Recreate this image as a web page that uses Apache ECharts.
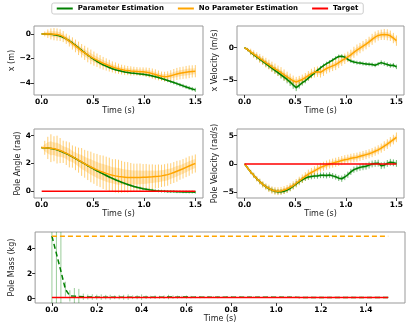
<!DOCTYPE html>
<html>
<head>
<meta charset="utf-8">
<script src="https://cdn.jsdelivr.net/npm/echarts@6/dist/echarts.min.js"></script>
<style>
  html, body { margin: 0; padding: 0; background: #fff; }
  #chart { width: 415px; height: 332px; }
</style>
</head>
<body>
<div id="chart"></div>
<script>
// time axis of the four state panels (s)
const timeSteps = [0.00,0.03,0.06,0.09,0.12,0.15,0.18,0.21,0.24,0.27,0.30,0.33,0.36,0.39,0.42,0.45,0.48,0.51,0.54,0.57,
  0.60,0.63,0.66,0.69,0.72,0.75,0.78,0.81,0.84,0.87,0.90,0.93,0.96,0.99,1.02,1.05,1.08,1.11,1.14,1.17,
  1.20,1.23,1.26,1.29,1.32,1.35,1.38,1.41,1.44,1.47,1.50]

// x (m)
const xEst    = [0.00,0.00,-0.01,-0.03,-0.06,-0.10,-0.17,-0.27,-0.40,-0.56,-0.74,-0.94,-1.14,-1.34,-1.54,-1.73,-1.91,-2.08,-2.24,-2.39,
  -2.52,-2.64,-2.75,-2.85,-2.93,-3.00,-3.06,-3.11,-3.15,-3.19,-3.22,-3.25,-3.28,-3.31,-3.35,-3.39,-3.44,-3.50,-3.57,-3.65,
  -3.73,-3.81,-3.90,-3.98,-4.07,-4.16,-4.25,-4.34,-4.43,-4.51,-4.58]
const xEstErr = [0.02,0.03,0.04,0.05,0.06,0.07,0.08,0.08,0.09,0.10,0.10,0.10,0.10,0.10,0.10,0.10,0.10,0.10,0.10,0.10,
  0.10,0.10,0.10,0.10,0.10,0.10,0.10,0.10,0.10,0.10,0.10,0.11,0.11,0.11,0.12,0.12,0.12,0.13,0.13,0.13,
  0.14,0.14,0.14,0.15,0.15,0.15,0.16,0.16,0.16,0.17,0.17]
const xNoEst    = [0.00,0.00,0.02,0.00,-0.02,-0.05,-0.10,-0.22,-0.40,-0.58,-0.78,-0.98,-1.18,-1.38,-1.55,-1.72,-1.88,-2.02,-2.15,-2.28,
  -2.40,-2.50,-2.60,-2.70,-2.78,-2.85,-2.92,-2.97,-3.00,-3.03,-3.05,-3.07,-3.09,-3.10,-3.13,-3.18,-3.25,-3.32,-3.40,-3.46,
  -3.50,-3.48,-3.42,-3.35,-3.28,-3.22,-3.18,-3.14,-3.10,-3.07,-3.05]
const xNoEstErr = [0.05,0.20,0.35,0.45,0.50,0.50,0.48,0.45,0.42,0.45,0.50,0.52,0.55,0.55,0.58,0.60,0.60,0.58,0.55,0.55,
  0.52,0.50,0.48,0.45,0.45,0.42,0.40,0.40,0.38,0.38,0.36,0.35,0.35,0.36,0.38,0.40,0.42,0.42,0.40,0.38,
  0.40,0.42,0.45,0.48,0.50,0.50,0.50,0.52,0.52,0.50,0.50]

// x velocity (m/s)
const vEst    = [0.0,-0.3,-0.7,-1.05,-1.4,-1.75,-2.1,-2.45,-2.8,-3.15,-3.5,-3.85,-4.2,-4.55,-4.9,-5.3,-5.75,-6.15,-5.8,-5.4,
  -5.1,-4.7,-4.3,-3.9,-3.5,-3.1,-2.75,-2.45,-2.2,-1.9,-1.6,-1.35,-1.3,-1.45,-1.8,-2.05,-2.2,-2.3,-2.35,-2.45,
  -2.5,-2.55,-2.6,-2.7,-2.5,-2.3,-2.45,-2.6,-2.75,-2.7,-2.95]
const vEstErr = [0.05,0.2,0.3,0.35,0.4,0.4,0.45,0.45,0.45,0.5,0.5,0.5,0.55,0.55,0.6,0.6,0.6,0.55,0.5,0.45,
  0.4,0.4,0.35,0.35,0.3,0.3,0.3,0.3,0.3,0.3,0.3,0.3,0.3,0.3,0.3,0.3,0.3,0.3,0.3,0.3,
  0.3,0.3,0.3,0.3,0.3,0.35,0.35,0.35,0.35,0.35,0.35]
const vNoEst    = [0.0,-0.3,-0.65,-1.0,-1.3,-1.65,-1.95,-2.3,-2.6,-2.95,-3.25,-3.55,-3.85,-4.2,-4.5,-4.8,-5.1,-5.3,-5.1,-4.9,
  -4.6,-4.3,-4.0,-3.8,-3.7,-3.8,-3.5,-3.2,-3.0,-2.8,-2.6,-2.3,-2.0,-1.7,-1.4,-1.1,-0.7,-0.35,-0.05,0.25,
  0.55,0.9,1.3,1.65,1.9,2.0,2.05,2.0,1.85,1.5,1.1]
const vNoEstErr = [0.05,0.3,0.5,0.6,0.6,0.7,0.7,0.75,0.75,0.8,0.8,0.8,0.85,0.85,0.8,0.8,0.8,0.8,0.75,0.75,
  0.7,0.7,0.75,0.8,0.8,0.8,0.85,0.8,0.8,0.8,0.85,0.85,0.8,0.8,0.8,0.8,0.85,0.85,0.8,0.8,
  0.8,0.8,0.85,0.85,0.8,0.8,0.85,0.85,0.8,0.8,0.8]

// pole angle (rad)
const thEst    = [3.14,3.13,3.11,3.08,3.04,2.98,2.90,2.81,2.71,2.60,2.48,2.36,2.23,2.10,1.97,1.84,1.72,1.60,1.48,1.36,
  1.25,1.14,1.03,0.93,0.83,0.74,0.65,0.57,0.49,0.42,0.35,0.29,0.24,0.19,0.15,0.11,0.08,0.05,0.03,0.01,
  0.00,-0.01,-0.02,-0.02,-0.03,-0.03,-0.04,-0.04,-0.05,-0.05,-0.06]
const thEstErr = [0.02,0.03,0.04,0.05,0.05,0.06,0.06,0.07,0.07,0.08,0.08,0.08,0.08,0.08,0.08,0.09,0.09,0.10,0.10,0.10,
  0.10,0.10,0.10,0.10,0.10,0.10,0.10,0.10,0.10,0.10,0.10,0.10,0.10,0.10,0.10,0.10,0.10,0.10,0.10,0.10,
  0.10,0.10,0.10,0.10,0.10,0.10,0.10,0.10,0.10,0.10,0.10]
const thNoEst    = [3.14,3.13,3.12,3.10,3.06,3.00,2.93,2.84,2.74,2.62,2.50,2.37,2.24,2.11,1.98,1.86,1.75,1.64,1.54,1.45,
  1.37,1.29,1.22,1.16,1.11,1.07,1.04,1.02,1.00,0.99,0.99,0.99,1.00,1.01,1.02,1.03,1.04,1.06,1.08,1.11,
  1.15,1.20,1.27,1.35,1.44,1.53,1.62,1.72,1.82,1.92,2.00]
const thNoEstErr = [0.10,0.50,0.80,1.00,0.90,1.00,0.90,0.80,0.85,0.90,0.80,0.85,0.90,1.00,1.00,1.05,1.10,1.10,1.15,1.15,
  1.20,1.20,1.20,1.15,1.20,1.20,1.15,1.10,1.10,1.05,1.00,1.00,1.00,0.95,0.95,0.90,0.90,0.85,0.85,0.80,
  0.80,0.80,0.75,0.75,0.75,0.70,0.70,0.70,0.70,0.65,0.65]

// pole velocity (rad/s)
const omEst    = [0.0,-0.7,-1.4,-2.0,-2.6,-3.1,-3.6,-4.0,-4.35,-4.6,-4.8,-4.9,-4.9,-4.8,-4.6,-4.3,-3.9,-3.5,-3.1,-2.8,
  -2.5,-2.3,-2.2,-2.1,-2.1,-2.0,-2.0,-2.05,-1.95,-2.1,-2.25,-2.5,-2.6,-2.3,-1.9,-1.4,-1.0,-0.8,-0.6,-0.5,
  -0.4,-0.2,0.0,0.1,0.15,-0.3,-0.2,0.1,0.3,0.2,0.1]
const omEstErr = [0.05,0.2,0.3,0.35,0.35,0.4,0.4,0.4,0.45,0.45,0.45,0.45,0.45,0.45,0.45,0.5,0.5,0.5,0.5,0.5,
  0.5,0.5,0.5,0.5,0.5,0.5,0.5,0.5,0.5,0.5,0.5,0.5,0.55,0.55,0.55,0.55,0.55,0.55,0.6,0.6,
  0.6,0.6,0.6,0.6,0.6,0.6,0.6,0.6,0.6,0.6,0.6]
const omNoEst    = [0.0,-0.7,-1.4,-2.0,-2.6,-3.1,-3.6,-4.0,-4.3,-4.6,-4.75,-4.8,-4.75,-4.6,-4.4,-4.1,-3.8,-3.4,-3.0,-2.6,
  -2.2,-1.8,-1.5,-1.2,-0.9,-0.6,-0.4,-0.2,0.0,0.15,0.3,0.45,0.6,0.75,0.85,1.0,1.1,1.2,1.35,1.5,
  1.65,1.8,2.0,2.25,2.5,2.8,3.15,3.5,3.9,4.3,4.7]
const omNoEstErr = [0.05,0.3,0.4,0.5,0.5,0.55,0.6,0.6,0.65,0.65,0.7,0.7,0.7,0.7,0.7,0.7,0.75,0.75,0.75,0.75,
  0.75,0.8,0.8,0.8,0.8,0.8,0.8,0.8,0.8,0.8,0.8,0.8,0.8,0.8,0.8,0.8,0.8,0.8,0.8,0.8,
  0.8,0.8,0.8,0.8,0.8,0.8,0.85,0.85,0.85,0.85,0.85]

// pole mass panel (kg), own time step
const massTime = [0.00,0.02,0.04,0.06,0.08,0.10,0.12,0.14,0.16,0.18,0.20,0.22,0.24,0.26,0.28,0.30,0.32,0.34,0.36,0.38,
  0.40,0.42,0.44,0.46,0.48,0.50,0.52,0.54,0.56,0.58,0.60,0.62,0.64,0.66,0.68,0.70,0.72,0.74,0.76,0.78,
  0.80,0.82,0.84,0.86,0.88,0.90,0.92,0.94,0.96,0.98,1.00,1.02,1.04,1.06,1.08,1.10,1.12,1.14,1.16,1.18,
  1.20,1.22,1.24,1.26,1.28,1.30,1.32,1.34,1.36,1.38,1.40,1.42,1.44,1.46,1.48,1.50]
const massEst = [5.0,3.6,2.2,0.75,0.22,0.20,0.18,0.15,0.13,0.13,0.12,0.12,0.12,0.11,0.11,0.12,0.11,0.12,0.11,0.11,
  0.12,0.11,0.11,0.12,0.11,0.12,0.13,0.12,0.12,0.13,0.13,0.12,0.12,0.12,0.12,0.12,0.12,0.11,0.12,0.12,
  0.12,0.11,0.11,0.11,0.11,0.11,0.11,0.11,0.11,0.11,0.11,0.11,0.11,0.11,0.11,0.10,0.10,0.10,0.10,0.10,
  0.10,0.10,0.10,0.10,0.10,0.10,0.10,0.10,0.10,0.10,0.10,0.10,0.10,0.10,0.10,0.10]
const massEstErr = [6.0,6.0,6.0,0.60,0.45,0.65,0.60,0.25,0.20,0.22,0.20,0.22,0.18,0.20,0.15,0.18,0.20,0.22,0.15,0.16,
  0.22,0.14,0.12,0.14,0.12,0.14,0.18,0.14,0.12,0.10,0.12,0.10,0.08,0.09,0.08,0.08,0.07,0.08,0.07,0.07,
  0.07,0.06,0.06,0.06,0.06,0.06,0.05,0.05,0.05,0.05,0.05,0.05,0.05,0.05,0.05,0.05,0.05,0.05,0.05,0.05,
  0.05,0.05,0.05,0.05,0.05,0.05,0.05,0.05,0.05,0.05,0.05,0.05,0.05,0.05,0.05,0.05]
const massNoEst = 5.0
const massTarget = 0.1
const angleTarget = 0
const omegaTarget = 0

const xTicks = [0, 0.5, 1.0, 1.5]
const massXTicks = [0, 0.2, 0.4, 0.6, 0.8, 1.0, 1.2, 1.4]

const GREEN = '#008000', ORANGE = '#ffa500', RED = '#ff0000'
const FONT = 'DejaVu Sans'
const minus = v => (v < 0 ? '\u2212' + Math.abs(v) : String(v))

const grids = [
  { left: 34,  top: 26,  width: 169, height: 69 },
  { left: 237, top: 26,  width: 167, height: 69 },
  { left: 34,  top: 129, width: 169, height: 69 },
  { left: 237, top: 129, width: 167, height: 69 },
  { left: 34,  top: 232, width: 371, height: 71 },
].map(g => ({ ...g, show: true, borderColor: '#999', borderWidth: 1, backgroundColor: 'transparent' }))

const tickLabel = { color: '#000', fontSize: 7.5, fontWeight: 'bold', fontFamily: FONT }
const nameStyle = { color: '#222', fontSize: 8, fontFamily: FONT }

function xAxis(gi, ticks) {
  return {
    type: 'value', gridIndex: gi, min: -0.075, max: 1.575, position: 'bottom',
    name: 'Time (s)', nameLocation: 'middle', nameGap: 10, nameTextStyle: nameStyle,
    axisLine: { show: false, onZero: false }, splitLine: { show: false },
    axisTick: { show: true, length: 3, customValues: ticks, lineStyle: { color: '#333' } },
    axisLabel: { ...tickLabel, margin: 3, customValues: ticks, formatter: v => v.toFixed(1) },
  }
}
function yAxis(gi, name, min, max, ticks, gap) {
  return {
    type: 'value', gridIndex: gi, min, max, position: 'left',
    name, nameLocation: 'middle', nameGap: gap, nameTextStyle: nameStyle,
    axisLine: { show: false, onZero: false }, splitLine: { show: false },
    axisTick: { show: true, length: 3, customValues: ticks, lineStyle: { color: '#333' } },
    axisLabel: { ...tickLabel, margin: 3, customValues: ticks, formatter: minus },
  }
}

function band(gi, ts, mean, err, fill) {
  return {
    type: 'custom', xAxisIndex: gi, yAxisIndex: gi, silent: true, clip: true, z: 1,
    data: ts.map((t, i) => [t, mean[i]]),
    renderItem: (params, api) => {
      if (params.dataIndex !== 0) return null
      const pts = ts.map((t, i) => api.coord([t, mean[i] + err[i] * 0.5]))
      for (let i = ts.length - 1; i >= 0; i--) pts.push(api.coord([ts[i], mean[i] - err[i] * 0.5]))
      return { type: 'polygon', shape: { points: pts }, style: { fill } }
    },
  }
}
function errBars(gi, ts, mean, err, stroke) {
  return {
    type: 'custom', xAxisIndex: gi, yAxisIndex: gi, silent: true, clip: true, z: 2,
    data: ts.map((t, i) => [t, mean[i] - err[i], mean[i] + err[i]]),
    renderItem: (params, api) => {
      const a = api.coord([api.value(0), api.value(1)])
      const b = api.coord([api.value(0), api.value(2)])
      return { type: 'line', shape: { x1: a[0], y1: a[1], x2: b[0], y2: b[1] }, style: { stroke, lineWidth: 1 } }
    },
  }
}
function line(gi, name, ts, vals, color, dashed) {
  return {
    type: 'line', name, xAxisIndex: gi, yAxisIndex: gi, z: 3,
    data: ts.map((t, i) => [t, Array.isArray(vals) ? vals[i] : vals]),
    showSymbol: false, animation: false, silent: true,
    lineStyle: { color, width: 1.5, type: dashed ? [5, 3] : 'solid' },
    itemStyle: { color },
  }
}

function statePanel(gi, est, estErr, noEst, noEstErr, target) {
  const s = [
    band(gi, timeSteps, est, estErr, 'rgba(0,128,0,0.18)'),
    errBars(gi, timeSteps, est, estErr, 'rgba(0,128,0,0.55)'),
    line(gi, 'Parameter Estimation', timeSteps, est, GREEN),
    band(gi, timeSteps, noEst, noEstErr, 'rgba(255,165,0,0.25)'),
    errBars(gi, timeSteps, noEst, noEstErr, 'rgba(255,165,0,0.55)'),
    line(gi, 'No Parameter Estimation', timeSteps, noEst, ORANGE),
  ]
  if (target !== undefined) s.push(line(gi, 'Target', timeSteps, target, RED))
  return s
}

const chart = echarts.init(document.getElementById('chart'), null, { renderer: 'canvas' })
chart.setOption({
  animation: false,
  backgroundColor: '#fff',
  legend: {
    top: 3, left: 'center',
    data: ['Parameter Estimation', 'No Parameter Estimation', 'Target'],
    icon: 'rect', itemWidth: 16, itemHeight: 2, itemGap: 14,
    textStyle: { color: '#000', fontSize: 7, fontWeight: 'bold', fontFamily: FONT },
    borderColor: '#ccc', borderWidth: 1, borderRadius: 2, padding: [2, 5],
  },
  grid: grids,
  xAxis: [xAxis(0, xTicks), xAxis(1, xTicks), xAxis(2, xTicks), xAxis(3, xTicks), xAxis(4, massXTicks)],
  yAxis: [
    yAxis(0, 'x (m)', -5, 0.65, [-4, -2, 0], 18),
    yAxis(1, 'x Velocity (m/s)', -7.3, 3.36, [-5, 0], 17),
    yAxis(2, 'Pole Angle (rad)', -0.48, 4.48, [0, 2, 4], 11),
    yAxis(3, 'Pole Velocity (rad/s)', -6.0, 6.17, [-5, 0, 5], 15),
    yAxis(4, 'Pole Mass (kg)', -0.35, 5.33, [0, 2, 4], 9),
  ],
  series: [
    ...statePanel(0, xEst, xEstErr, xNoEst, xNoEstErr),
    ...statePanel(1, vEst, vEstErr, vNoEst, vNoEstErr),
    ...statePanel(2, thEst, thEstErr, thNoEst, thNoEstErr, angleTarget),
    ...statePanel(3, omEst, omEstErr, omNoEst, omNoEstErr, omegaTarget),
    errBars(4, massTime, massEst, massEstErr, 'rgba(0,128,0,0.4)'),
    line(4, 'Parameter Estimation', massTime, massEst, GREEN, true),
    line(4, 'No Parameter Estimation', massTime, massNoEst, ORANGE, true),
    line(4, 'Target', massTime, massTarget, RED),
  ],
})
</script>
</body>
</html>
